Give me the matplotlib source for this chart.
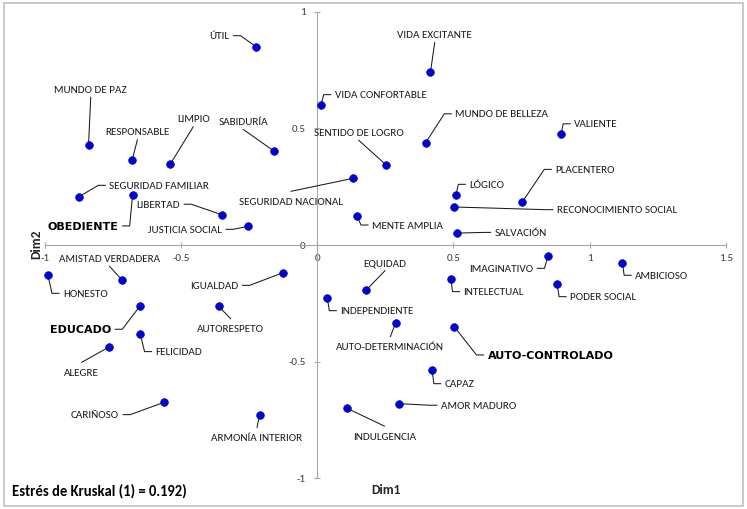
import matplotlib
matplotlib.use('Agg')
import matplotlib.pyplot as plt
from matplotlib.patches import Rectangle
import numpy as np

plt.rcParams['font.family'] = ['Carlito', 'Roboto', 'DejaVu Sans']
plt.rcParams['axes.unicode_minus'] = False

#----------------------- data -------------------------------
names = ['ÚTIL', 'MUNDO DE PAZ', 'RESPONSABLE', 'LIMPIO', 'SABIDURÍA',
         'SEGURIDAD FAMILIAR', 'OBEDIENTE', 'LIBERTAD', 'JUSTICIA SOCIAL',
         'SEGURIDAD NACIONAL', 'VIDA EXCITANTE', 'VIDA CONFORTABLE',
         'MUNDO DE BELLEZA', 'SENTIDO DE LOGRO', 'VALIENTE', 'PLACENTERO',
         'LÓGICO', 'RECONOCIMIENTO SOCIAL', 'MENTE AMPLIA', 'SALVACIÓN',
         'HONESTO', 'AMISTAD VERDADERA', 'IGUALDAD', 'EDUCADO', 'AUTORESPETO',
         'FELICIDAD', 'ALEGRE', 'CARIÑOSO', 'ARMONÍA INTERIOR',
         'IMAGINATIVO', 'AMBICIOSO', 'INTELECTUAL', 'PODER SOCIAL', 'EQUIDAD',
         'INDEPENDIENTE', 'AUTO-DETERMINACIÓN', 'AUTO-CONTROLADO', 'CAPAZ',
         'AMOR MADURO', 'INDULGENCIA']

dim1 = [-0.225, -0.840, -0.680, -0.539, -0.158,
        -0.875, -0.678, -0.349, -0.253,
        0.132, 0.416, 0.014,
        0.398, 0.252, 0.895, 0.753,
        0.509, 0.503, 0.147, 0.512,
        -0.989, -0.717, -0.126, -0.650, -0.362,
        -0.650, -0.763, -0.562, -0.212,
        0.848, 1.121, 0.491, 0.881, 0.180,
        0.037, 0.288, 0.503, 0.422,
        0.301, 0.108]

dim2 = [0.850, 0.429, 0.363, 0.348, 0.402,
        0.207, 0.216, 0.129, 0.080,
        0.286, 0.742, 0.599,
        0.438, 0.344, 0.474, 0.184,
        0.213, 0.163, 0.123, 0.051,
        -0.130, -0.150, -0.119, -0.260, -0.263,
        -0.381, -0.436, -0.674, -0.729,
        -0.046, -0.077, -0.144, -0.167, -0.193,
        -0.227, -0.334, -0.350, -0.537,
        -0.680, -0.699]

bold_names = ['OBEDIENTE', 'EDUCADO', 'AUTO-CONTROLADO']

xticks = [-1, -0.5, 0, 0.5, 1, 1.5]
xtick_labels = ['-1', '-0.5', '0', '0.5', '1', '1.5']
yticks = [-1, -0.5, 0, 0.5, 1]
ytick_labels = ['-1', '-0.5', '0', '0.5', '1']

# label placement: offset (px) of the label anchor from its point, and where the leader attaches
# L = leader from left edge, R = from right edge, B = from bottom, T = from top
placement = {
    'ÚTIL': (-26.4, 11, 'R'), 'MUNDO DE PAZ': (2.2, 55.7, 'B'),
    'RESPONSABLE': (5.3, 28.6, 'B'), 'LIMPIO': (22.7, 45, 'B'),
    'SABIDURÍA': (-30.7, 29.6, 'B'), 'SEGURIDAD FAMILIAR': (30.3, 11.4, 'L'),
    'OBEDIENTE': (-14, -31.3, 'R'), 'LIBERTAD': (-42, 10.7, 'R'),
    'JUSTICIA SOCIAL': (-26.3, -3, 'R'), 'SEGURIDAD NACIONAL': (-62, -23, 'T'),
    'VIDA EXCITANTE': (4.2, 37.3, 'B'), 'VIDA CONFORTABLE': (13.6, 10.6, 'L'),
    'MUNDO DE BELLEZA': (29.7, 29, 'L'), 'SENTIDO DE LOGRO': (-27, 32.4, 'B'),
    'VALIENTE': (13.3, 10.6, 'L'), 'PLACENTERO': (33, 32.7, 'L'),
    'LÓGICO': (13.6, 11, 'L'), 'RECONOCIMIENTO SOCIAL': (102.7, -2.7, 'L'),
    'MENTE AMPLIA': (14.7, -8.7, 'L'), 'SALVACIÓN': (38, 0.7, 'L'),
    'HONESTO': (15, -18, 'L'), 'AMISTAD VERDADERA': (-12.5, 21.7, 'B'),
    'IGUALDAD': (-44.4, -12.6, 'R'), 'EDUCADO': (-29, -23.6, 'R'),
    'AUTORESPETO': (12, -22.4, 'T'), 'FELICIDAD': (15.3, -17.7, 'L'),
    'ALEGRE': (-27.8, -25.6, 'T'), 'CARIÑOSO': (-45, -12.4, 'R'),
    'ARMONÍA INTERIOR': (-2.5, -22.3, 'T'), 'IMAGINATIVO': (-14.7, -12.6, 'R'),
    'AMBICIOSO': (12.7, -12.3, 'L'), 'INTELECTUAL': (12.6, -13, 'L'),
    'PODER SOCIAL': (13, -12.7, 'L'), 'EQUIDAD': (18.7, 27.3, 'B'),
    'INDEPENDIENTE': (13, -12.7, 'L'), 'AUTO-DETERMINACIÓN': (-5.3, -23.7, 'T'),
    'AUTO-CONTROLADO': (33.3, -28.3, 'L'), 'CAPAZ': (12.7, -13.4, 'L'),
    'AMOR MADURO': (41.7, -1.6, 'L'), 'INDULGENCIA': (37.7, -28, 'T'),
}

#----------------------- figure -------------------------------
fig = plt.figure(figsize=(7.47, 5.09), dpi=100)
ax = fig.add_axes([0.0602, 0.0603, 0.9112, 0.9167])
ax.set_xlim(-1, 1.5)
ax.set_ylim(-1, 1)

axis_grey = '#a6a6a6'
for side in ['top', 'right']:
    ax.spines[side].set_visible(False)
for side in ['left', 'bottom']:
    ax.spines[side].set_position(('data', 0))
    ax.spines[side].set_color(axis_grey)
    ax.spines[side].set_linewidth(0.8)

ax.set_xticks(xticks)
ax.set_xticklabels(xtick_labels)
ax.set_yticks(yticks)
ax.set_yticklabels(ytick_labels)
ax.tick_params(axis='both', direction='inout', length=4.5, width=0.8,
               color=axis_grey, labelcolor='#404040', labelsize=8)
ax.tick_params(axis='x', pad=4)
ax.tick_params(axis='y', pad=6)

ax.plot(dim1, dim2, 'o', color='#0000d8', mec='#00009a', mew=0.4, ms=5.6,
        zorder=4, clip_on=False)

to_data = ax.transData.inverted()
for name, x, y in zip(names, dim1, dim2):
    dx, dy, kind = placement[name]
    px, py = ax.transData.transform((x, y))
    lx, ly = px + dx, py + dy
    if kind == 'L':
        ha = 'left'
        path = [(lx - 4, ly), (lx - 11, ly), (px, py)]
    elif kind == 'R':
        ha = 'right'
        path = [(lx + 4, ly), (lx + 11, ly), (px, py)]
    elif kind == 'B':
        ha = 'center'
        path = [(lx, ly - 8), (px, py)]
    else:
        ha = 'center'
        path = [(lx, ly + 10), (px, py)]
    pts = to_data.transform(path)
    ax.plot(pts[:, 0], pts[:, 1], color='#1a1a1a', lw=0.75, zorder=3,
            clip_on=False)
    if name in bold_names:
        ax.annotate(name, (x, y), xytext=(dx, dy), textcoords='offset pixels',
                    ha=ha, va='center_baseline', fontsize=8,
                    fontweight='bold', family=['DejaVu Sans'],
                    color='black', zorder=5)
    else:
        ax.annotate(name, (x, y), xytext=(dx, dy), textcoords='offset pixels',
                    ha=ha, va='center_baseline', fontsize=8,
                    color='#1a1a1a', zorder=5)

fig.text(385.5 / 747, 1 - 489.5 / 509, 'Dim1', ha='center', va='center',
         fontsize=9.6, fontweight='bold', color='#262626')
fig.text(36 / 747, 1 - 244 / 509, 'Dim2', ha='center', va='center',
         rotation=90, fontsize=9.6, fontweight='bold', color='#262626')
fig.text(12 / 747, 1 - 491 / 509, 'Estrés de Kruskal (1) = 0.192)',
         ha='left', va='center', fontsize=10.5, fontweight='bold',
         color='black')

fig.patches.append(Rectangle((4 / 747, 3 / 509), 739 / 747, 503 / 509,
                             transform=fig.transFigure, fill=False,
                             edgecolor='#c0c0c0', lw=1.2))

fig.savefig('out.png', dpi=100)
